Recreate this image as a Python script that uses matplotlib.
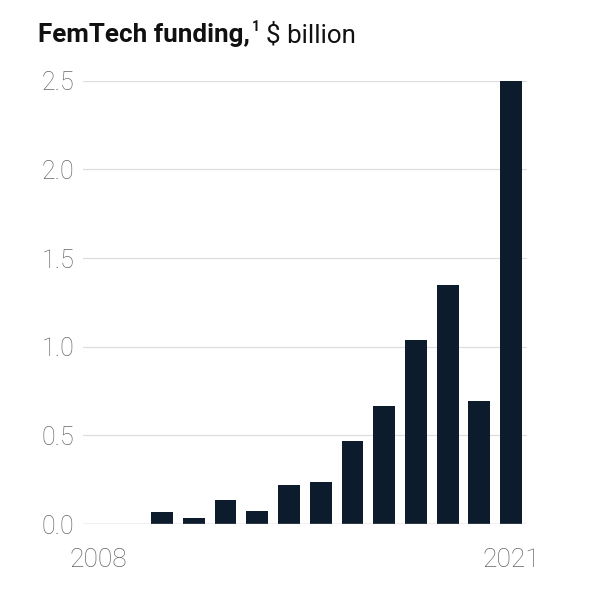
import numpy as np
import matplotlib
matplotlib.use("Agg")
import matplotlib.pyplot as plt

years = [2008, 2009, 2010, 2011, 2012, 2013, 2014, 2015, 2016, 2017, 2018, 2019, 2020, 2021]
funding = [0, 0, 0.067, 0.032, 0.138, 0.073, 0.222, 0.235, 0.466, 0.663, 1.035, 1.349, 0.695, 2.5]
yticks = [0.0, 0.5, 1.0, 1.5, 2.0, 2.5]
xticks = [2008, 2021]

BAR = "#0c1c2c"
GRAY = "#666666"
W, H = 600, 605

fig = plt.figure(figsize=(6, 6.05), dpi=100)
ax = fig.add_axes([82.7 / W, 1 - 524 / H, (527 - 82.7) / W, (524 - 80.7) / H])

ax.bar(years, funding, width=0.69, color=BAR, zorder=3)

ax.set_xlim(2007.5, 2021.5)
ax.set_ylim(0, 2.5)
ax.set_yticks(yticks)
ax.set_yticklabels(["%.1f" % v for v in yticks])
ax.set_xticks(xticks)
ax.set_xticklabels([str(x) for x in xticks])

for v in yticks[1:]:
    ax.axhline(v, color="#dedede", lw=0.9, zorder=1)
ax.axhline(0, color="#b4b4b4", lw=1.0, zorder=4)

for s in ax.spines.values():
    s.set_visible(False)
ax.tick_params(axis="both", length=0, colors=GRAY)
ax.tick_params(axis="y", pad=6, labelsize=18)
ax.tick_params(axis="x", pad=17, labelsize=19)
for lab in ax.get_xticklabels() + ax.get_yticklabels():
    lab.set_family("Roboto")
    lab.set_fontweight("light")

# title: bold part, superscript, regular part
base = 1 - 42.3 / H
t1 = fig.text(38.3 / W, base, "FemTech funding,", fontsize=18.7, fontweight="bold",
              family="Roboto", color="#111111", va="baseline", ha="left")
fig.canvas.draw()
r = fig.canvas.get_renderer()
x1 = t1.get_window_extent(r).x1 / W
t2 = fig.text(x1 + 1.5 / W, 1 - 30.7 / H, "1", fontsize=10, fontweight="bold",
              family="Roboto", color="#111111", va="baseline", ha="left")
x2 = t2.get_window_extent(r).x1 / W
fig.text(x2 + 6 / W, base, "$ billion", fontsize=18.7, family="Roboto",
         color="#111111", va="baseline", ha="left")

fig.savefig("out.png", dpi=100)
